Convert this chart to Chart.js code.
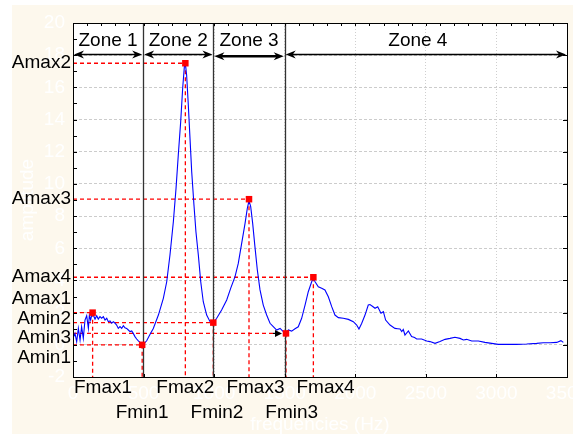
<!DOCTYPE html>
<html><head><meta charset="utf-8">
<script src="https://cdn.jsdelivr.net/npm/chart.js@4"></script>
<style>html,body{margin:0;padding:0;background:#fff}#wrap{width:585px;height:434px}</style>
</head><body><div id="wrap"><canvas id="c" width="585" height="434"></canvas></div>
<script>
// ---------- data ----------
const freqHz = [0,14,26,38,50,61,73,85,97,109,116,125,135,144,156,168,179,191,203,215,227,239,250,262,274,286,298,309,321,333,345,357,368,380,392,404,416,427,439,451,463,475,488,
500,522,546,569,605,640,664,687,711,730,746,763,777,789,796,805,817,829,841,857,871,888,905,923,947,971,994,
1018,1053,1089,1117,1148,1171,1195,1219,1235,1247,1259,1273,1289,1306,1325,1348,1372,1396,1419,1443,1467,1490,1509,
1526,1549,1573,1596,1620,1644,1667,1691,1703,1715,1738,1762,1785,1809,1833,1856,1880,1915,1951,1986,2010,2026,2045,2069,2092,2104,2121,2140,2159,2182,2199,2215,2246,2281,2300,2317,2329,2340,2352,2376,2399,2420,2435,2470,2506,
2529,2565,2600,2636,2671,2706,2742,2766,2789,2825,2872,2919,2966,3013,3073,3143,3214,3285,3332,3380,3427,3457,3474];
const amplitude = [0.40,0.71,0.20,1.02,0.30,1.13,0.40,1.54,1.81,1.02,1.85,1.54,1.96,1.85,1.60,1.81,1.60,1.75,1.65,1.75,1.54,1.65,1.44,1.48,1.34,1.44,1.34,1.23,1.02,1.13,1.02,1.19,1.06,1.02,0.92,0.82,0.86,0.71,0.51,0.36,0.24,0.15,0.00,
0.05,0.25,0.65,1.02,1.85,2.89,3.92,5.58,7.65,9.73,11.80,13.87,15.94,17.29,17.49,16.77,14.90,12.83,10.76,8.69,7.03,5.58,3.92,2.68,1.85,1.44,1.36,
1.65,2.16,2.79,3.51,4.24,5.06,6.31,7.55,8.48,8.95,8.59,7.55,6.10,4.65,3.41,2.47,1.85,1.34,1.13,0.92,1.02,0.82,0.71,
0.92,0.85,1.00,1.12,1.65,2.47,3.30,3.92,4.13,3.92,3.61,3.51,3.41,2.99,2.37,1.85,1.69,1.65,1.58,1.44,1.23,0.98,1.33,1.85,2.47,2.50,2.40,2.27,2.37,1.96,2.06,1.54,1.23,1.02,1.00,0.98,0.82,0.95,0.61,0.86,0.51,0.45,0.36,0.36,0.24,
0.20,0.09,0.20,0.34,0.40,0.47,0.40,0.30,0.34,0.24,0.24,0.15,0.09,0.03,0.03,0.03,0.05,0.09,0.13,0.13,0.15,0.26,0.15];

const markerNames = ['Fmax1','Fmin1','Fmax2','Fmin2','Fmax3','Fmin3','Fmax4'];
const ampNames    = ['Amax1','Amin1','Amax2','Amin2','Amax3','Amin3','Amax4'];
const markerFreq  = [139, 490, 796, 994, 1247, 1509, 1703];
const markerAmp   = [2.0, 0.0, 17.5, 1.38, 9.05, 0.71, 4.2];

const zoneNames  = ['Zone 1','Zone 2','Zone 3','Zone 4'];
const zoneBounds = [0, 497, 995, 1500, 3500];

const yMin = -2, yMax = 20, yStep = 2;
const xMin = 0, xMax = 3500, xStep = 500;
const xTitle = 'frequencies (Hz)';
const yTitle = 'amplitude';

// ---------- drawing ----------
const FAM = '"Liberation Sans", Arial, sans-serif';
const FONT = '19px ' + FAM;

function arrowHead(ctx, x, y, dir) {
  ctx.beginPath();
  ctx.moveTo(x, y);
  ctx.lineTo(x - dir * 10, y - 4);
  ctx.lineTo(x - dir * 7, y);
  ctx.lineTo(x - dir * 10, y + 4);
  ctx.closePath();
  ctx.fill();
}

const annot = {
  id: 'annot',
  beforeDraw(chart) {
    const ctx = chart.ctx, a = chart.chartArea;
    ctx.save();
    ctx.fillStyle = '#ffffff';
    ctx.fillRect(0, 0, chart.width, chart.height);
    ctx.fillStyle = '#fdf8ed';
    ctx.fillRect(12, 5, 561, 429);
    ctx.fillStyle = '#ffffff';
    ctx.fillRect(a.left, a.top, a.right - a.left, a.bottom - a.top);
    ctx.restore();
  },
  beforeDatasetsDraw(chart) {
    const {ctx, chartArea: a} = chart;
    const x = chart.scales.x, y = chart.scales.y;
    ctx.save();
    ctx.strokeStyle = 'rgb(255,0,0)';
    ctx.lineWidth = 1.3;
    ctx.setLineDash([4, 3]);
    markerFreq.forEach((f, i) => {
      const px = x.getPixelForValue(f), py = y.getPixelForValue(markerAmp[i]);
      ctx.beginPath(); ctx.moveTo(a.left, py); ctx.lineTo(px, py); ctx.stroke();
      ctx.beginPath(); ctx.moveTo(px, py); ctx.lineTo(px, a.bottom); ctx.stroke();
    });
    ctx.setLineDash([]);
    ctx.strokeStyle = '#333333';
    ctx.lineWidth = 1.3;
    zoneBounds.slice(1, -1).forEach(b => {
      const px = Math.round(x.getPixelForValue(b)) + 0.5;
      ctx.beginPath(); ctx.moveTo(px, a.top); ctx.lineTo(px, a.bottom); ctx.stroke();
    });
    ctx.restore();
  },
  afterDraw(chart) {
    const {ctx, chartArea: a} = chart;
    const x = chart.scales.x, y = chart.scales.y;
    ctx.save();
    // frame
    ctx.strokeStyle = '#000'; ctx.lineWidth = 1;
    ctx.strokeRect(Math.round(a.left) + 0.5, Math.round(a.top) + 0.5, Math.round(a.right - a.left), Math.round(a.bottom - a.top));
    // inner ticks
    ctx.beginPath();
    for (let v = yMin; v <= yMax; v += 1) {
      const py = Math.round(y.getPixelForValue(v)) + 0.5;
      ctx.moveTo(a.left, py); ctx.lineTo(a.left + 4, py);
      if (v % 2 === 0) { ctx.moveTo(a.right, py); ctx.lineTo(a.right - 4, py); }
    }
    for (let f = xMin; f <= xMax; f += 100) {
      const px = Math.round(x.getPixelForValue(f)) + 0.5;
      ctx.moveTo(px, a.top); ctx.lineTo(px, a.top + 3);
      if (f % 500 === 0) { ctx.moveTo(px, a.bottom); ctx.lineTo(px, a.bottom - 3); }
    }
    ctx.stroke();

    // zone arrows + labels
    ctx.fillStyle = '#000'; ctx.strokeStyle = '#000';
    ctx.font = FONT; ctx.textAlign = 'center'; ctx.textBaseline = 'middle';
    for (let i = 0; i < zoneNames.length; i++) {
      const x1 = x.getPixelForValue(zoneBounds[i]) + 1, x2 = x.getPixelForValue(zoneBounds[i + 1]) - 1;
      const thick = i === 2;
      const ya = y.getPixelForValue(thick ? 17.93 : 18.05);
      ctx.lineWidth = thick ? 2.5 : 1.5;
      ctx.beginPath(); ctx.moveTo(x1 + 6, ya); ctx.lineTo(x2 - 6, ya); ctx.stroke();
      arrowHead(ctx, x1, ya, -1);
      arrowHead(ctx, x2, ya, 1);
      const cx = i === zoneNames.length - 1 ? (x1 + x2) / 2 - 8 : (x1 + x2) / 2;
      ctx.fillText(zoneNames[i], cx, y.getPixelForValue(18.88));
    }

    // small pointer arrow at Fmin3
    {
      const px = x.getPixelForValue(markerFreq[5]) - 4, py = y.getPixelForValue(markerAmp[5]);
      ctx.lineWidth = 1.2;
      ctx.beginPath(); ctx.moveTo(px - 9, py); ctx.lineTo(px - 3, py); ctx.stroke();
      ctx.beginPath(); ctx.moveTo(px, py); ctx.lineTo(px - 7, py - 3.5); ctx.lineTo(px - 7, py + 3.5); ctx.closePath(); ctx.fill();
    }

    // amplitude labels on the left, de-overlapped
    const sp = 19.5;
    let items = ampNames.map((n, i) => ({n, y0: y.getPixelForValue(markerAmp[i])})).sort((p, q) => p.y0 - q.y0);
    let groups = items.map(it => ({members: [it], c: it.y0}));
    let merged = true;
    while (merged) {
      merged = false;
      for (let g = 0; g < groups.length - 1; g++) {
        const A = groups[g], B = groups[g + 1];
        const aBot = A.c + (A.members.length - 1) * sp / 2;
        const bTop = B.c - (B.members.length - 1) * sp / 2;
        if (bTop - aBot < sp) {
          const m = A.members.concat(B.members);
          groups.splice(g, 2, {members: m, c: m.reduce((s, t) => s + t.y0, 0) / m.length});
          merged = true; break;
        }
      }
    }
    ctx.textAlign = 'right';
    groups.forEach(g => g.members.forEach((m, k) => {
      ctx.fillText(m.n, a.left - 2, g.c + (k - (g.members.length - 1) / 2) * sp);
    }));

    // frequency labels at bottom: two rows, de-overlapped left to right
    ctx.textAlign = 'left';
    [0, 1].forEach(row => {
      const list = markerNames.map((n, i) => ({n, px: x.getPixelForValue(markerFreq[i])}))
        .filter(o => (row === 0) === o.n.startsWith('Fmax')).sort((p, q) => p.px - q.px);
      let limit = a.left + 1;
      const ty = a.bottom + (row === 0 ? 11 : 36);
      list.forEach(o => {
        const w = ctx.measureText(o.n).width;
        const s = Math.max(o.px - w / 2, limit);
        ctx.fillText(o.n, s, ty);
        limit = s + w + (row === 0 ? 12 : 22);
      });
    });
    ctx.restore();
  }
};

const tickFont = {family: FAM, size: 19};
new Chart(document.getElementById('c'), {
  type: 'scatter',
  data: {
    datasets: [
      {
        label: 'markers',
        data: markerFreq.map((f, i) => ({x: f, y: markerAmp[i]})),
        pointStyle: 'rect', pointRadius: 4.6, pointHoverRadius: 4.6,
        backgroundColor: '#ff0000', borderColor: '#ff0000', borderWidth: 0,
        showLine: false, order: 0
      },
      {
        label: 'amplitude',
        data: freqHz.map((f, i) => ({x: f, y: amplitude[i]})),
        showLine: true, borderColor: '#0000ff', borderWidth: 1.1,
        pointRadius: 0, pointHoverRadius: 0, tension: 0, order: 1
      }
    ]
  },
  options: {
    responsive: false, animation: false, devicePixelRatio: 1,
    layout: {padding: {left: 0, top: 23, right: 18, bottom: 0}},
    plugins: {legend: {display: false}, tooltip: {enabled: false}},
    scales: {
      x: {
        type: 'linear', min: xMin, max: xMax,
        ticks: {stepSize: xStep, color: '#ffffff', font: tickFont, padding: 5, maxRotation: 0, autoSkip: false, callback: v => String(v)},
        grid: {color: '#cfcfcf', drawTicks: false, lineWidth: 1},
        border: {display: true, color: '#000', dash: [1, 2]},
        title: {display: true, text: xTitle, color: '#ffffff', font: {family: FAM, size: 19, lineHeight: 1}, padding: {top: 0, bottom: 0}},
        afterFit(s) { s.height = 57; s.paddingLeft = 0; s.paddingRight = 0; }
      },
      y: {
        type: 'linear', min: yMin, max: yMax,
        ticks: {stepSize: yStep, color: '#ffffff', font: tickFont, padding: 8, callback: v => String(v)},
        grid: {color: '#cccccc', drawTicks: false, lineWidth: 1},
        border: {display: true, color: '#000', dash: [3, 2]},
        title: {display: true, text: yTitle, color: '#ffffff', font: {family: FAM, size: 19, lineHeight: 1}, padding: {top: 18, bottom: 0}},
        afterFit(s) { s.width = 73; s.paddingTop = 0; s.paddingBottom = 0; }
      }
    }
  },
  plugins: [annot]
});
</script>
</body></html>
